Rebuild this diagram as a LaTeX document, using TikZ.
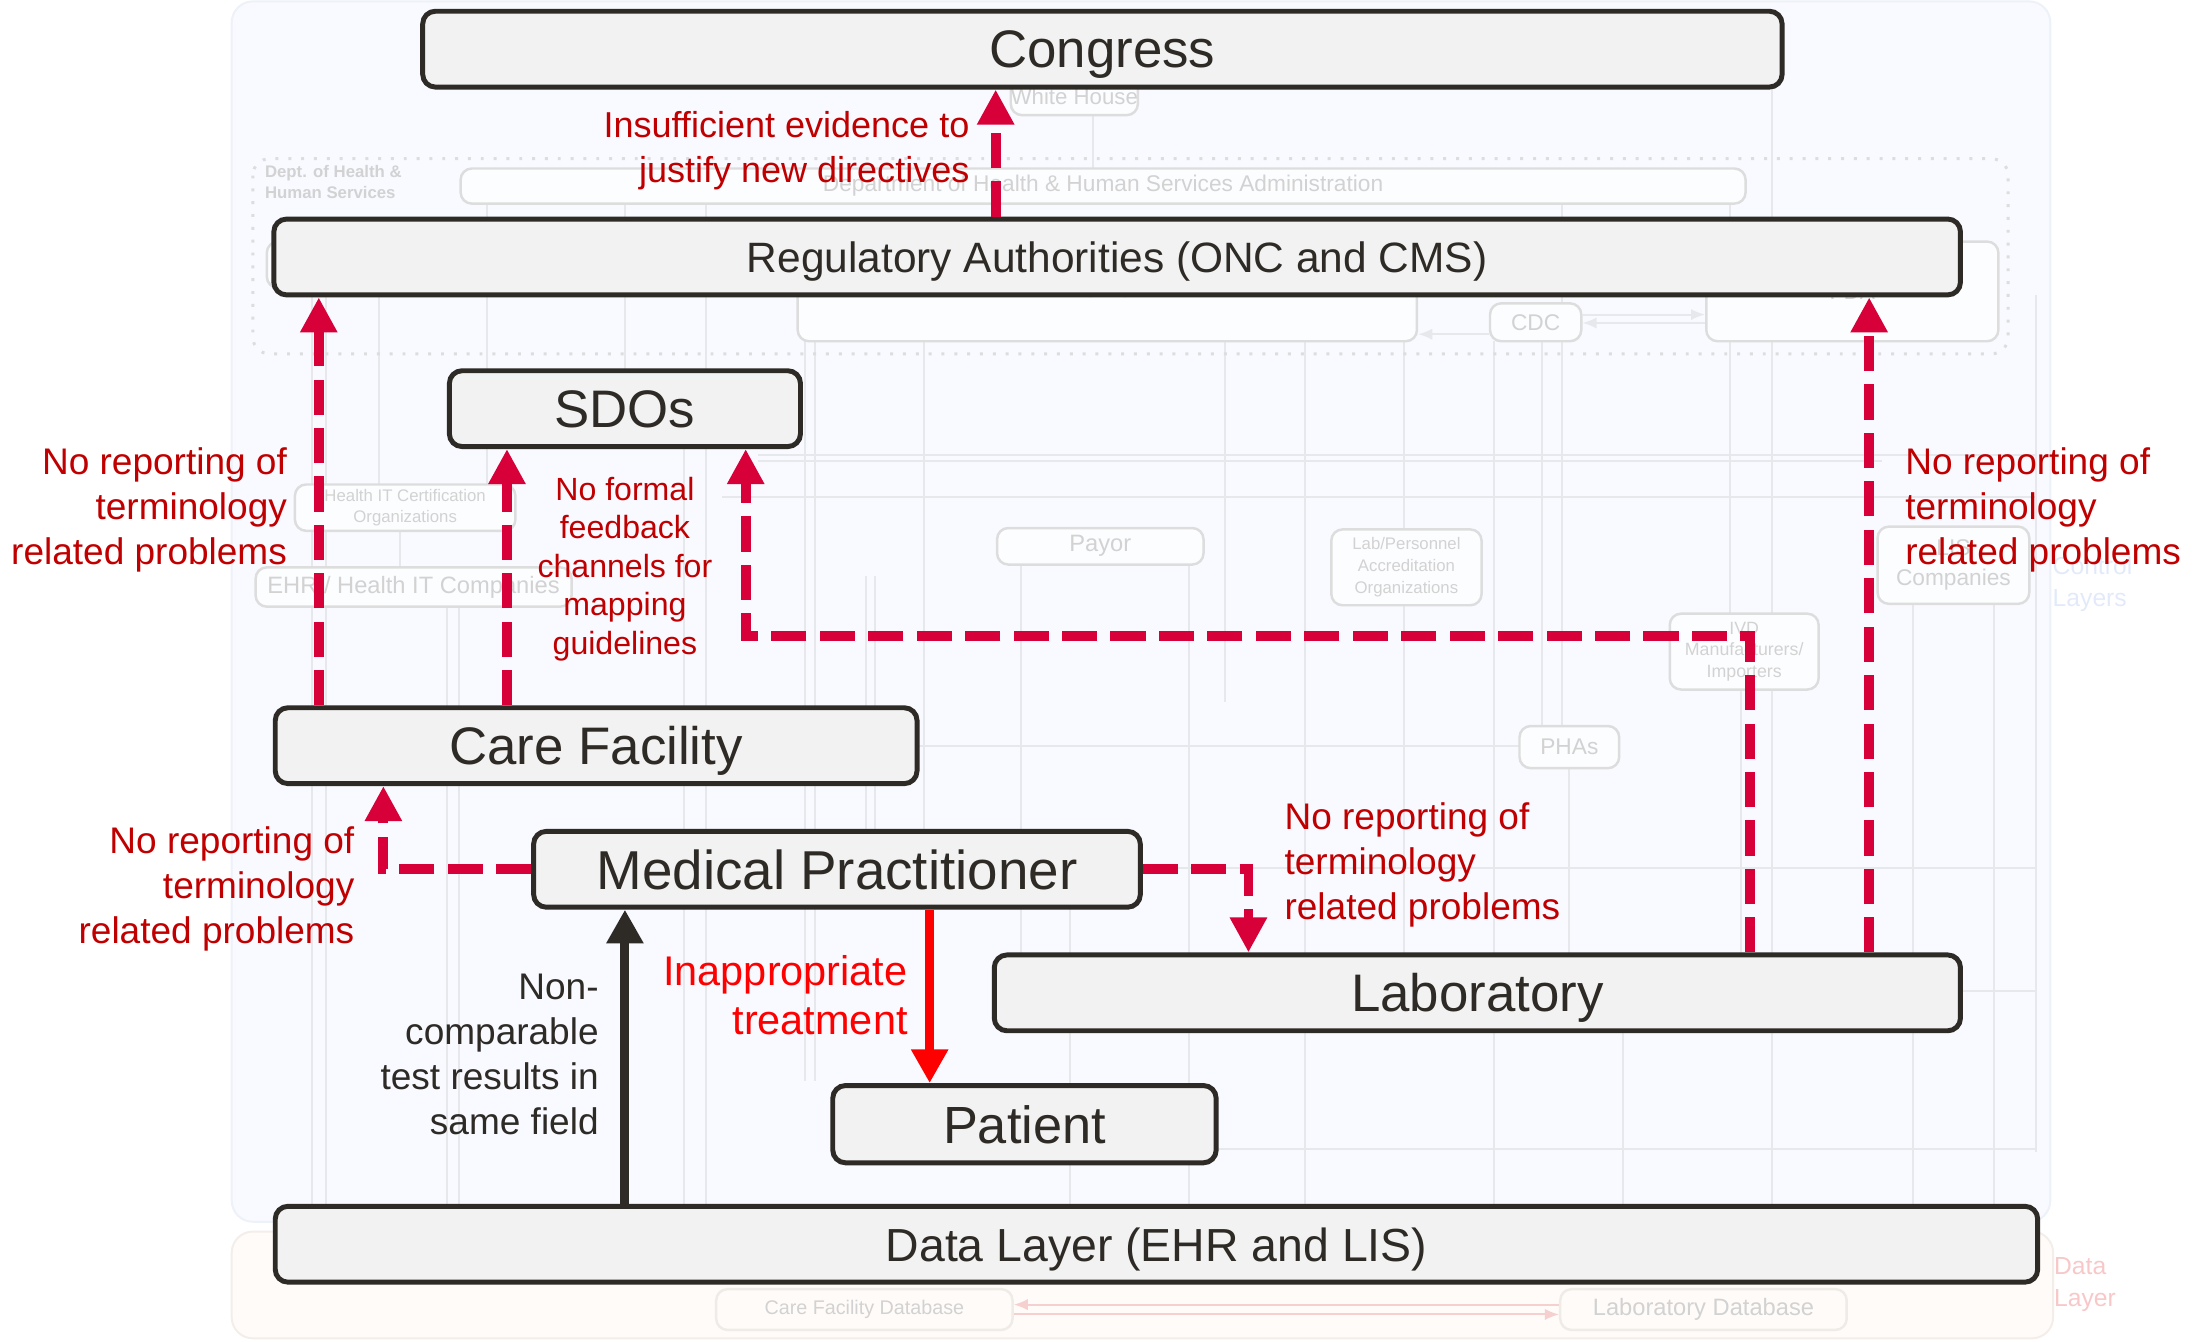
\documentclass[tikz,border=0pt]{standalone}
\usepackage{fontspec}
\setmainfont{Liberation Sans}
\usetikzlibrary{arrows.meta,calc}
\definecolor{boxfill}{HTML}{F2F2F2}
\definecolor{boxline}{HTML}{2E2A26}
\definecolor{crim}{HTML}{D70038}
\definecolor{lblred}{HTML}{C00000}
\definecolor{purered}{HTML}{FF0000}
\definecolor{ctrlbg}{HTML}{F8FAFF}
\definecolor{ctrledge}{HTML}{EDF1F8}
\definecolor{databg}{HTML}{FFFBF8}
\definecolor{dataedge}{HTML}{F4EEEA}
\definecolor{faint}{HTML}{DDDDDD}
\definecolor{faintline}{HTML}{E6E8EC}
\definecolor{fainttxt}{HTML}{D2D2D2}
\definecolor{ctrltxt}{HTML}{E2EAFA}
\definecolor{datatxt}{HTML}{F8C8C8}
\definecolor{pinkline}{HTML}{F6CFCF}
\tikzset{
  mainbox/.style={draw=boxline, fill=boxfill, line width=1pt, rounded corners=0.9mm,
    inner sep=0pt, text=boxline, text depth=0pt},
  bgbox/.style={draw=faint, fill=white!60!ctrlbg, line width=0.5pt, rounded corners=0.8mm,
    inner sep=0pt, text=fainttxt, align=center},
  fline/.style={draw=faintline, line width=0.4pt},
  rdash/.style={draw=crim, line width=0.7mm, dash pattern=on 2.5mm off 0.95mm,
    -{Triangle[width=2.5mm,length=2.5mm]}},
  solidarrow/.style={line width=0.65mm, -{Triangle[width=2.5mm,length=2.4mm]}},
  lbl/.style={text=lblred, font=\fontsize{7.5}{9.1}\selectfont, inner sep=0pt},
}
\begin{document}
\begin{tikzpicture}[x=0.1mm,y=-0.1mm]
\useasboundingbox (0,0) rectangle (1568,955);
% background panels
\draw[fill=ctrlbg, draw=ctrledge, line width=0.4pt, rounded corners=1.5mm] (165,1) rectangle (1460,870);
\draw[fill=databg, draw=dataedge, line width=0.4pt, rounded corners=1.5mm] (165,877) rectangle (1462,953);
\node[text=ctrltxt, font=\fontsize{5}{6.5}\selectfont, align=left, anchor=west, inner sep=0pt] (ctrllbl) at (1461,416) {Control\\Layers};
\node[text=datatxt, font=\fontsize{5}{6.5}\selectfont, align=left, anchor=west, inner sep=0pt] (datalbl) at (1462,915) {Data\\Layer};
% faint lines
\foreach \x/\a/\b in {222/210/859, 232/210/859, 270/210/345, 285/378/404, 318/432/859, 327/432/859,
  347/145/345, 445/145/264, 487/318/859, 503/145/859, 573/243/770, 580/243/770, 617/410/592,
  623/410/592, 658/243/592, 727/402/680, 762/646/859, 778/80/120, 847/402/859, 872/243/500,
  929/243/859, 1000/243/377, 1000/431/680, 1064/243/859, 1098/243/517, 1112/145/517,
  1117/547/680, 1156/734/859, 1232/145/437, 1240/491/680, 1262/62/859, 1362/430/859,
  1420/430/859, 1450/210/820}
  {\draw[fline] (\x,\a) -- (\x,\b);}
\foreach \y/\a/\b in {324/540/1450, 328/540/1340, 354/514/1450, 618/812/1450, 706/1396/1450,
  818/866/1450, 531/653/1082}
  {\draw[fline] (\a,\y) -- (\b,\y);}
% dotted HHS group
\draw[draw=faint, line width=0.6pt, dotted, rounded corners=1.2mm] (180,113) rectangle (1430,252);
\node[text=fainttxt, font=\bfseries\fontsize{3.4}{4.2}\selectfont, align=left, anchor=north west, inner sep=0pt] (hhslbl) at (188,117) {Dept. of Health \&\\Human Services};
% faint boxes
\node[bgbox, minimum width=9mm, minimum height=2.6mm, font=\fontsize{4.5}{5}\selectfont] (wh) at (765,69) {White House};
\node[bgbox, minimum width=91.5mm, minimum height=2.5mm, font=\fontsize{4.6}{5}\selectfont] (adm) at (785.5,132.5) {Department of Health \& Human Services Administration};
\node[bgbox, minimum width=23mm, minimum height=3.3mm] (onc) at (305,188.5) {};
\node[bgbox, minimum width=44.1mm, minimum height=7.3mm, font=\fontsize{4.6}{5}\selectfont] (cms) at (788.5,206.5) {CMS};
\node[bgbox, minimum width=6.5mm, minimum height=2.7mm, font=\fontsize{4.6}{5}\selectfont] (cdc) at (1093.5,229.5) {CDC};
\node[bgbox, minimum width=20.8mm, minimum height=7.1mm, font=\fontsize{4.6}{5}\selectfont] (fda) at (1319,207.5) {FDA};
\draw[fline, -{Latex[length=1mm,width=0.8mm]}] (cdc.east |- 0,224) -- (fda.west |- 0,224);
\draw[fline, -{Latex[length=1mm,width=0.8mm]}] (fda.west |- 0,230) -- (cdc.east |- 0,230);
\draw[fline, -{Latex[length=1mm,width=0.8mm]}] (cdc.west |- 0,238) -- (cms.east |- 0,238);
\node[bgbox, minimum width=15.7mm, minimum height=3.3mm, font=\fontsize{3.4}{4.2}\selectfont] (hitc) at (288.5,361.5) {Health IT Certification\\Organizations};
\node[bgbox, minimum width=22.5mm, minimum height=2.8mm, font=\fontsize{4.8}{5}\selectfont] (ehrc) at (294.5,418) {EHR / Health IT Companies};
\node[bgbox, minimum width=14.7mm, minimum height=2.6mm, font=\fontsize{4.8}{5}\selectfont] (payor) at (783.5,389) {Payor};
\node[bgbox, minimum width=10.7mm, minimum height=5.4mm, font=\fontsize{3.4}{4.4}\selectfont] (labpers) at (1001.5,404) {Lab/Personnel\\Accreditation\\Organizations};
\node[bgbox, minimum width=10.6mm, minimum height=5.4mm, font=\fontsize{3.6}{4.4}\selectfont] (ivd) at (1242,464) {IVD\\Manufacturers/\\Importers};
\node[bgbox, minimum width=7.1mm, minimum height=3mm, font=\fontsize{4.6}{5}\selectfont] (phas) at (1117.5,532) {PHAs};
\node[bgbox, minimum width=10.8mm, minimum height=5.5mm, font=\fontsize{4.6}{6}\selectfont] (lisc) at (1391,402.5) {LIS\\Companies};
\node[bgbox, draw=dataedge!80!faint, fill=databg, minimum width=21.1mm, minimum height=2.9mm, font=\fontsize{4}{5}\selectfont] (cfdb) at (615.5,932.5) {Care Facility Database};
\node[bgbox, draw=dataedge!80!faint, fill=databg, minimum width=20.4mm, minimum height=2.9mm, font=\fontsize{4.8}{5}\selectfont] (labdb) at (1213,932.5) {Laboratory Database};
\draw[draw=pinkline, line width=0.4pt, -{Latex[length=1mm,width=0.8mm]}] (labdb.west |- 0,929) -- (cfdb.east |- 0,929);
\draw[draw=pinkline, line width=0.4pt, -{Latex[length=1mm,width=0.8mm]}] (cfdb.east |- 0,936) -- (labdb.west |- 0,936);
% main boxes
\node[mainbox, minimum width=96.8mm, minimum height=5.4mm, font=\fontsize{10.7}{12}\selectfont] (congress) at (785,35) {Congress};
\node[mainbox, minimum width=120.1mm, minimum height=5.4mm, font=\fontsize{8.6}{10}\selectfont] (reg) at (795.5,183) {Regulatory Authorities (ONC and CMS)};
\node[mainbox, minimum width=25mm, minimum height=5.4mm, font=\fontsize{10.7}{12}\selectfont] (sdos) at (445,291) {SDOs};
\node[mainbox, minimum width=45.7mm, minimum height=5.4mm, font=\fontsize{10.7}{12}\selectfont] (cf) at (424.5,531) {Care Facility};
\node[mainbox, minimum width=43.2mm, minimum height=5.4mm, font=\fontsize{11.1}{12}\selectfont] (mp) at (596,619) {Medical Practitioner};
\node[mainbox, minimum width=68.8mm, minimum height=5.4mm, font=\fontsize{10.7}{12}\selectfont] (lab) at (1052,707) {Laboratory};
\node[mainbox, minimum width=27.3mm, minimum height=5.5mm, font=\fontsize{10.6}{12}\selectfont] (pat) at (729.5,800.5) {Patient};
\node[mainbox, minimum width=125.5mm, minimum height=5.4mm, font=\fontsize{9.4}{11}\selectfont] (dl) at (823.5,886) {Data Layer (EHR and LIS)};
% red dashed connectors
\draw[rdash] (709,0 |- reg.north) -- (709,0 |- congress.south);
\draw[rdash] (227,0 |- cf.north) -- (227,0 |- reg.south);
\draw[rdash] (361,0 |- cf.north) -- (361,0 |- sdos.south);
\draw[rdash] (1246,0 |- lab.north) |- (531,453) -- (531,0 |- sdos.south);
\draw[rdash] (1331,0 |- lab.north) -- (1331,0 |- reg.south);
\draw[rdash] (mp.west) -| (273,0 |- cf.south);
\draw[rdash] (mp.east) -| (889,0 |- lab.north);
% solid connectors
\draw[solidarrow, draw=boxline, fill=boxline] (445,0 |- dl.north) -- (445,0 |- mp.south);
\draw[solidarrow, draw=purered, fill=purered] (662,0 |- mp.south) -- (662,0 |- pat.north);
% labels
\node[lbl, align=right, anchor=east, font=\fontsize{7.3}{9.1}\selectfont] (ltop) at (691,107) {Insufficient evidence to\\justify new directives};
\node[lbl, align=right, anchor=east] (lleft) at (205,363) {No reporting of\\terminology\\related problems};
\node[lbl, align=left, anchor=west] (lright) at (1356,363) {No reporting of\\terminology\\related problems};
\node[lbl, align=right, anchor=east] (lcf) at (253,633) {No reporting of\\terminology\\related problems};
\node[lbl, align=left, anchor=west] (llab) at (914,616) {No reporting of\\terminology\\related problems};
\node[lbl, align=center, font=\fontsize{6.5}{7.8}\selectfont] (lsdo) at (445,405) {No formal\\feedback\\channels for\\mapping\\guidelines};
\node[lbl, text=boxline, align=right, anchor=east] (lnon) at (427,751) {Non-\\comparable\\test results in\\same field};
\node[lbl, text=purered, align=right, anchor=east, font=\fontsize{8.4}{10}\selectfont] (linap) at (647,708.5) {Inappropriate\\treatment};
\end{tikzpicture}
\end{document}
